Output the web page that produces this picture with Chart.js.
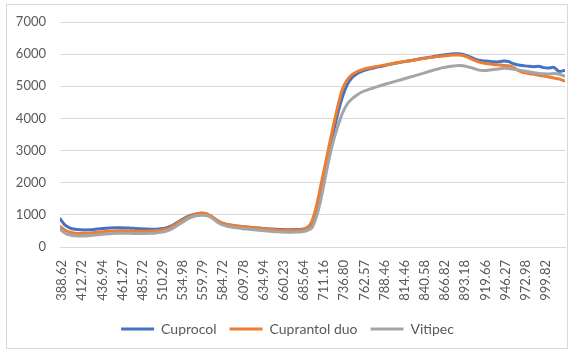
<!DOCTYPE html>
<html>
<head>
<meta charset="utf-8">
<script src="https://cdn.jsdelivr.net/npm/chart.js@4/dist/chart.umd.min.js"></script>
<style>
  html, body { margin: 0; padding: 0; background: #fff; }
  #wrap { position: relative; width: 573px; height: 352px; }
  #frame { position: absolute; left: 6px; top: 4px; width: 562px; height: 345px;
           border: 1px solid #d9d9d9; box-sizing: border-box; pointer-events: none; }
  canvas { position: absolute; left: 0; top: 0; }
</style>
</head>
<body>
<div id="wrap">
  <canvas id="chart" width="573" height="352"></canvas>
  <div id="frame"></div>
</div>
<script>
// Wavelength labels (nm) shown along the horizontal axis
const tickLabels = ["388.62","412.72","436.94","461.27","485.72","510.29","534.98","559.79",
  "584.72","609.78","634.94","660.23","685.64","711.16","736.80","762.57","788.46","814.46",
  "840.58","866.82","893.18","919.66","946.27","972.98","999.82"];

// Spectra sampled every quarter label step, starting just before the first label
const sampleStart = -0.1;
const sampleStep = 0.25;

const cuprocol = [880,680,590,550,535,530,535,550,565,580,595,600,600,595,585,575,565,560,555,555,
  565,590,650,740,830,920,990,1030,1050,1030,950,840,750,700,675,655,640,625,610,595,
  585,570,560,550,545,540,540,545,555,600,740,1180,1900,2650,3400,4080,4650,5050,5280,5400,
  5470,5520,5560,5600,5630,5665,5700,5730,5760,5785,5810,5840,5870,5895,5920,5950,5970,5990,6010,6010,
  5990,5940,5870,5810,5790,5780,5760,5760,5790,5770,5700,5660,5640,5620,5610,5620,5580,5570,5590,5460,5490];

const cuprantolDuo = [640,520,460,430,420,425,435,450,470,485,495,500,505,505,500,495,490,490,495,505,
  520,555,620,710,810,900,970,1020,1060,1040,960,850,760,710,680,655,635,620,605,590,
  575,560,545,535,525,520,520,525,540,590,810,1350,2100,2850,3600,4300,4900,5200,5370,5460,
  5520,5560,5590,5620,5650,5680,5710,5735,5760,5785,5810,5835,5860,5885,5905,5925,5945,5960,5970,5975,
  5960,5900,5820,5760,5720,5700,5680,5665,5650,5640,5580,5490,5430,5400,5370,5340,5320,5290,5260,5230,5170];

const vitipec = [560,430,375,350,340,345,355,370,390,405,415,425,430,430,425,420,420,420,425,435,
  455,490,550,640,740,840,920,970,990,980,920,800,700,650,620,595,575,560,545,530,
  515,500,485,475,465,460,460,465,475,510,600,1000,1650,2450,3150,3700,4150,4450,4620,4740,
  4830,4890,4940,4990,5040,5085,5130,5175,5220,5265,5310,5355,5400,5450,5500,5540,5580,5610,5630,5650,
  5640,5600,5560,5510,5490,5500,5520,5540,5560,5550,5530,5510,5480,5450,5420,5400,5390,5380,5400,5380,5320];

const toPoints = arr => arr.map((y, i) => ({ x: sampleStart + i * sampleStep, y }));

const font = { family: "Lato, 'Open Sans', sans-serif", size: 13 };
const textColor = '#595959';
const gridColor = '#d9d9d9';

new Chart(document.getElementById('chart'), {
  type: 'line',
  data: {
    datasets: [
      { label: 'Cuprocol', data: toPoints(cuprocol), borderColor: '#4472C4', backgroundColor: '#4472C4', borderWidth: 3, order: 3 },
      { label: 'Cuprantol duo', data: toPoints(cuprantolDuo), borderColor: '#ED7D31', backgroundColor: '#ED7D31', borderWidth: 3, order: 2 },
      { label: 'Vitipec', data: toPoints(vitipec), borderColor: '#A5A5A5', backgroundColor: '#A5A5A5', borderWidth: 3, order: 1 }
    ]
  },
  options: {
    responsive: false,
    animation: false,
    events: [],
    layout: { padding: { left: 10, right: 8, top: 22, bottom: 6 } },
    elements: {
      point: { radius: 0 },
      line: { tension: 0.2, borderCapStyle: 'round', borderJoinStyle: 'round' }
    },
    scales: {
      x: {
        type: 'linear',
        min: -0.1,
        max: 24.95,
        afterBuildTicks: scale => { scale.ticks = tickLabels.map((_, i) => ({ value: i })); },
        afterFit: scale => { scale.height = 62; },
        grid: { display: false },
        border: { display: true, color: gridColor },
        ticks: {
          autoSkip: false,
          minRotation: 90,
          maxRotation: 90,
          padding: 5,
          color: textColor,
          font,
          callback: v => tickLabels[v] ?? ''
        }
      },
      y: {
        min: 0,
        max: 7000,
        afterFit: scale => { scale.width = 50; },
        grid: { color: gridColor, drawTicks: false },
        border: { display: false },
        ticks: { stepSize: 1000, padding: 14, color: textColor, font, callback: v => String(v) }
      }
    },
    plugins: {
      tooltip: { enabled: false },
      legend: {
        position: 'bottom',
        labels: {
          sort: (a, b) => a.datasetIndex - b.datasetIndex,
          usePointStyle: true,
          pointStyle: 'line',
          pointStyleWidth: 33,
          padding: 13,
          color: textColor,
          font: { family: font.family, size: 14 }
        }
      }
    }
  }
});
</script>
</body>
</html>
